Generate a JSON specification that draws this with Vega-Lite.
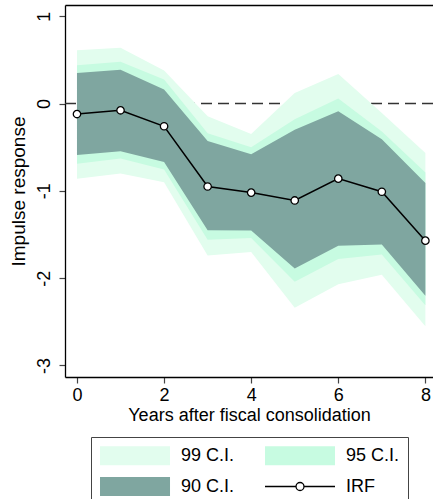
{
  "$schema": "https://vega.github.io/schema/vega-lite/v6.json",
  "autosize": {"type": "none"},
  "width": 368,
  "height": 372,
  "padding": {"left": 65, "top": 5, "right": 0, "bottom": 122},
  "background": "white",
  "config": {
    "view": {"stroke": null},
    "font": "Liberation Sans",
    "axis": {
      "grid": false,
      "domainColor": "black",
      "domainWidth": 1.3,
      "tickColor": "#444",
      "tickWidth": 1.2,
      "tickSize": 6,
      "labelColor": "black",
      "labelFontSize": 18,
      "labelFont": "Liberation Sans",
      "titleColor": "black",
      "titleFont": "Liberation Sans",
      "titleFontWeight": "normal",
      "titleFontSize": 18
    }
  },
  "datasets": {
    "irf": [
      {"year": 0, "irf": -0.12},
      {"year": 1, "irf": -0.077},
      {"year": 2, "irf": -0.26},
      {"year": 3, "irf": -0.95},
      {"year": 4, "irf": -1.02},
      {"year": 5, "irf": -1.11},
      {"year": 6, "irf": -0.86},
      {"year": 7, "irf": -1.01},
      {"year": 8, "irf": -1.57}
    ],
    "bands": [
      {"year": 0, "band": "99 C.I.", "lo": -0.86, "hi": 0.61},
      {"year": 1, "band": "99 C.I.", "lo": -0.80, "hi": 0.64},
      {"year": 2, "band": "99 C.I.", "lo": -0.90, "hi": 0.38},
      {"year": 3, "band": "99 C.I.", "lo": -1.74, "hi": -0.145},
      {"year": 4, "band": "99 C.I.", "lo": -1.70, "hi": -0.35},
      {"year": 5, "band": "99 C.I.", "lo": -2.34, "hi": 0.12},
      {"year": 6, "band": "99 C.I.", "lo": -2.07, "hi": 0.34},
      {"year": 7, "band": "99 C.I.", "lo": -1.96, "hi": -0.107},
      {"year": 8, "band": "99 C.I.", "lo": -2.55, "hi": -0.565},
      {"year": 0, "band": "95 C.I.", "lo": -0.69, "hi": 0.44},
      {"year": 1, "band": "95 C.I.", "lo": -0.63, "hi": 0.48},
      {"year": 2, "band": "95 C.I.", "lo": -0.756, "hi": 0.275},
      {"year": 3, "band": "95 C.I.", "lo": -1.56, "hi": -0.34},
      {"year": 4, "band": "95 C.I.", "lo": -1.54, "hi": -0.50},
      {"year": 5, "band": "95 C.I.", "lo": -2.04, "hi": -0.18},
      {"year": 6, "band": "95 C.I.", "lo": -1.78, "hi": 0.057},
      {"year": 7, "band": "95 C.I.", "lo": -1.73, "hi": -0.32},
      {"year": 8, "band": "95 C.I.", "lo": -2.31, "hi": -0.79},
      {"year": 0, "band": "90 C.I.", "lo": -0.59, "hi": 0.35},
      {"year": 1, "band": "90 C.I.", "lo": -0.546, "hi": 0.386},
      {"year": 2, "band": "90 C.I.", "lo": -0.67, "hi": 0.16},
      {"year": 3, "band": "90 C.I.", "lo": -1.45, "hi": -0.43},
      {"year": 4, "band": "90 C.I.", "lo": -1.455, "hi": -0.58},
      {"year": 5, "band": "90 C.I.", "lo": -1.89, "hi": -0.30},
      {"year": 6, "band": "90 C.I.", "lo": -1.63, "hi": -0.088},
      {"year": 7, "band": "90 C.I.", "lo": -1.615, "hi": -0.41},
      {"year": 8, "band": "90 C.I.", "lo": -2.20, "hi": -0.91}
    ],
    "ref": [{"level": 0}]
  },
  "resolve": {"axis": {"x": "independent"}},
  "layer": [
    {
      "data": {"name": "ref"},
      "mark": {"type": "rule", "strokeDash": [11, 6], "color": "#333", "strokeWidth": 1.4},
      "encoding": {
        "y": {
          "field": "level",
          "type": "quantitative",
          "scale": {"domain": [-3.132, 1.129], "nice": false, "zero": false},
          "axis": {
            "values": [-3, -2, -1, 0, 1],
            "labelExpr": "'' + datum.value",
            "labelAngle": -90,
            "labelAlign": "center",
            "labelBaseline": "bottom",
            "labelPadding": 6,
            "title": "Impulse response",
            "titleFontSize": 19,
            "titlePadding": 7
          }
        }
      }
    },
    {
      "data": {"name": "bands"},
      "transform": [{"filter": "datum.band === '99 C.I.'"}],
      "mark": {"type": "area", "opacity": 1},
      "encoding": {
        "x": {
          "field": "year",
          "type": "quantitative",
          "scale": {"domain": [-0.275, 8.175], "nice": false, "zero": false},
          "axis": {
            "orient": "bottom",
            "values": [0, 2, 4, 6, 8],
            "labelPadding": 3,
            "title": "Years after fiscal consolidation",
            "titlePadding": 2
          }
        },
        "y": {"field": "lo", "type": "quantitative"},
        "y2": {"field": "hi"},
        "fill": {
          "field": "band",
          "type": "nominal",
          "scale": {
            "domain": ["99 C.I.", "90 C.I.", "95 C.I.", "IRF"],
            "range": ["#e2fdee", "#7fa6a0", "#c7fbe1", "white"]
          },
          "legend": {
            "orient": "none",
            "legendX": 26,
            "legendY": 432,
            "title": null,
            "columns": 2,
            "columnPadding": 27,
            "rowPadding": 6,
            "padding": 8,
            "strokeColor": "#444",
            "fillColor": "white",
            "labelFontSize": 18,
            "labelFont": "Liberation Sans",
            "labelColor": "black",
            "labelOffset": 61,
            "symbolSize": 361,
            "symbolStrokeWidth": 1.3,
            "symbolOpacity": 1,
            "encode": {
              "symbols": {
                "update": {
                  "shape": [
                    {"test": "datum.value === 'IRF'", "value": "M-1,0H2.265M3.105,0H6.37M2.265,0A0.42,0.42,0,1,0,3.105,0A0.42,0.42,0,1,0,2.265,0Z"},
                    {"value": "M-1,-1H6.37V1H-1Z"}
                  ],
                  "stroke": [
                    {"test": "datum.value === 'IRF'", "value": "black"},
                    {"value": "transparent"}
                  ],
                  "strokeWidth": {"value": 1.3}
                }
              }
            }
          }
        }
      }
    },
    {
      "data": {"name": "bands"},
      "transform": [{"filter": "datum.band === '95 C.I.'"}],
      "mark": {"type": "area", "opacity": 1},
      "encoding": {
        "x": {"field": "year", "type": "quantitative", "axis": null},
        "y": {"field": "lo", "type": "quantitative"},
        "y2": {"field": "hi"},
        "fill": {"field": "band", "type": "nominal"}
      }
    },
    {
      "data": {"name": "bands"},
      "transform": [{"filter": "datum.band === '90 C.I.'"}],
      "mark": {"type": "area", "opacity": 1},
      "encoding": {
        "x": {"field": "year", "type": "quantitative", "axis": null},
        "y": {"field": "lo", "type": "quantitative"},
        "y2": {"field": "hi"},
        "fill": {"field": "band", "type": "nominal"}
      }
    },
    {
      "data": {"name": "irf"},
      "mark": {
        "type": "line",
        "color": "black",
        "strokeWidth": 1.5,
        "point": {"filled": true, "fill": "white", "stroke": "black", "strokeWidth": 1.3, "size": 55, "opacity": 1}
      },
      "encoding": {
        "x": {
          "field": "year",
          "type": "quantitative",
          "axis": {"orient": "top", "ticks": false, "labels": false, "title": null, "domain": true}
        },
        "y": {"field": "irf", "type": "quantitative"}
      }
    }
  ]
}
